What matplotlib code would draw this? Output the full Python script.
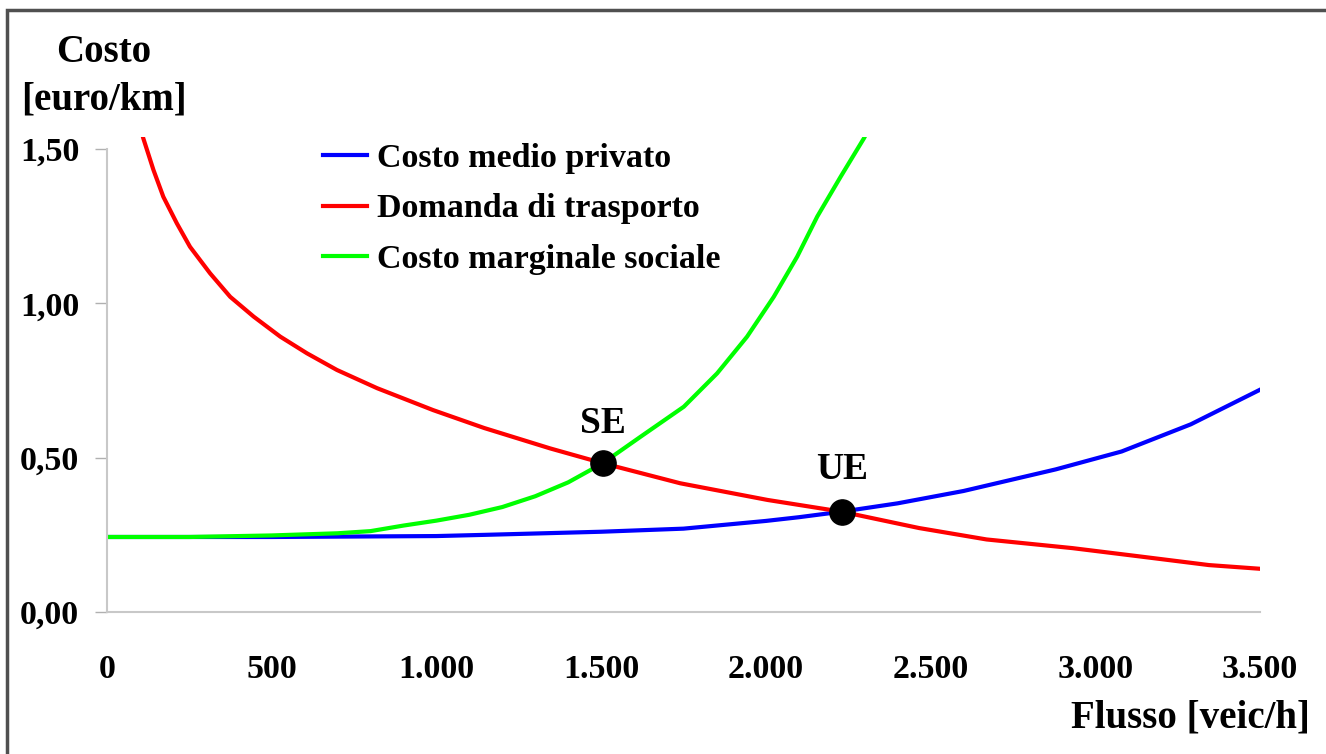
import numpy as np
import matplotlib
matplotlib.use('Agg')
from matplotlib import pyplot as plt
from matplotlib.patches import Rectangle

# dati
x_cmp = [0, 500, 1000, 1150, 1500, 1750, 2000, 2100, 2230, 2400, 2600, 2880, 3080, 3290, 3500]
y_cmp = [0.243, 0.243, 0.246, 0.250, 0.260, 0.270, 0.295, 0.307, 0.325, 0.352, 0.392, 0.462, 0.520, 0.608, 0.720]

x_dom = [95, 110, 141, 171, 212, 252, 313, 374, 445, 526, 607, 698, 820, 990, 1145, 1345, 1505,
         1740, 2005, 2230, 2465, 2670, 2930, 3135, 3345, 3500]
y_dom = [1.60, 1.535, 1.432, 1.345, 1.259, 1.183, 1.097, 1.021, 0.957, 0.892, 0.838, 0.784, 0.725,
         0.654, 0.596, 0.530, 0.482, 0.417, 0.363, 0.325, 0.272, 0.235, 0.207, 0.180, 0.152, 0.140]

x_cms = [0, 250, 500, 700, 800, 900, 1000, 1100, 1200, 1300, 1400, 1505, 1620, 1751, 1852, 1943,
         2024, 2095, 2156, 2227, 2298, 2315]
y_cms = [0.243, 0.243, 0.248, 0.255, 0.262, 0.280, 0.296, 0.315, 0.340, 0.375, 0.420, 0.482, 0.568,
         0.665, 0.773, 0.892, 1.021, 1.151, 1.281, 1.410, 1.535, 1.57]

# equilibri
eq_names = ['SE', 'UE']
eq_x = [1505, 2230]
eq_y = [0.482, 0.325]

xticks = [0, 500, 1000, 1500, 2000, 2500, 3000, 3500]
xlabels = ['0', '500', '1.000', '1.500', '2.000', '2.500', '3.000', '3.500']
yticks = [0.0, 0.5, 1.0, 1.5]
ylabels = ['0,00', '0,50', '1,00', '1,50']

plt.rcParams['font.family'] = ['Liberation Serif', 'DejaVu Serif']
plt.rcParams['font.weight'] = 'bold'

fig = plt.figure(figsize=(13.26, 7.54), dpi=100)
ax = fig.add_axes([107/1326, 1-612/754, (1260-107)/1326, (612-136.6)/754])

ax.plot(x_cmp, y_cmp, color='#0000ff', lw=3, label='Costo medio privato')
ax.plot(x_dom, y_dom, color='#ff0000', lw=3, label='Domanda di trasporto')
ax.plot(x_cms, y_cms, color='#00ff00', lw=3, label='Costo marginale sociale')

ax.scatter(eq_x, eq_y, s=330, color='black', zorder=5)
ax.text(eq_x[0], 0.61, eq_names[0], ha='center', va='center', fontsize=27, fontweight='bold')
ax.text(eq_x[1], 0.462, eq_names[1], ha='center', va='center', fontsize=27, fontweight='bold')

ax.set_xlim(0, 3500)
ax.set_ylim(0, 1.54)

ax.set_xticks(xticks)
ax.set_xticklabels(xlabels)
ax.set_yticks(yticks)
ax.set_yticklabels(ylabels)
ax.tick_params(axis='x', length=0, pad=30, labelsize=24.5)
ax.tick_params(axis='y', length=9, width=1, color='#b0b0b0', pad=11, labelsize=24.5)

for s in ['top', 'right']:
  ax.spines[s].set_visible(False)
for s in ['left', 'bottom']:
  ax.spines[s].set_color('#c8c8c8')
  ax.spines[s].set_linewidth(1.5)
ax.spines['left'].set_bounds(0, 1.5)

leg = ax.legend(loc='upper left', bbox_to_anchor=(199/1153, 1.023), frameon=False, borderpad=0,
                fontsize=24.5, handlelength=1.3, handletextpad=0.29, labelspacing=0.58)
for t in leg.get_texts():
  t.set_fontweight('bold')

# titoli assi
fig.text(104/1326, 1-52/754, 'Costo', ha='center', va='center', fontsize=28, fontweight='bold')
fig.text(104/1326, 1-100/754, '[euro/km]', ha='center', va='center', fontsize=28, fontweight='bold')
fig.text(1310/1326, 1-718/754, 'Flusso [veic/h]', ha='right', va='center', fontsize=28, fontweight='bold')

# cornice
fig.patches.append(Rectangle((7/1326, -0.1), 1.2, 1-10/754+0.1, transform=fig.transFigure,
                             fill=False, edgecolor='#505050', lw=2.5))

fig.savefig('out.png', dpi=100)
